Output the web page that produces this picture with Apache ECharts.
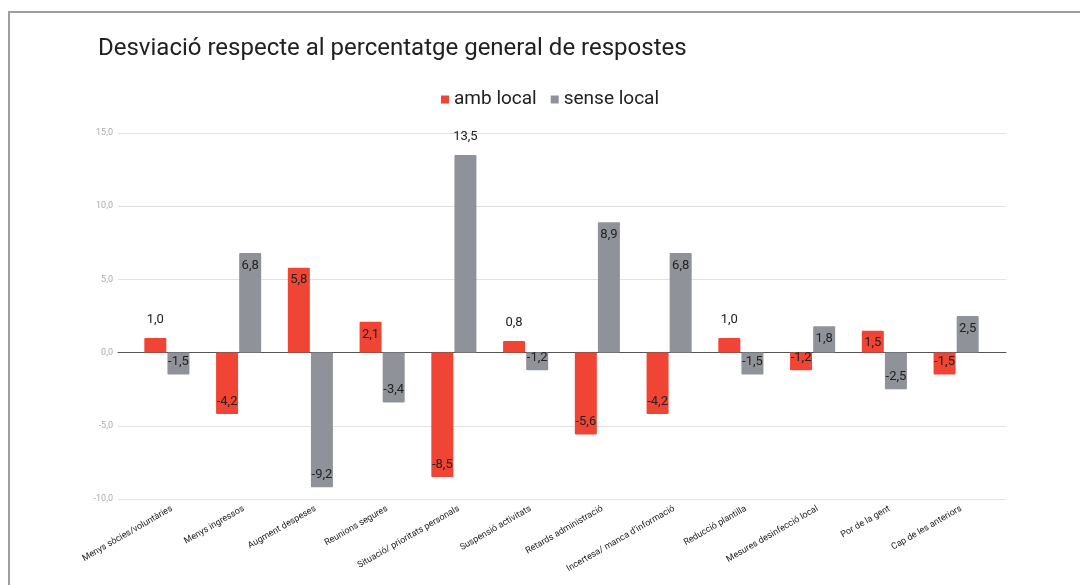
<!DOCTYPE html>
<html>
<head>
<meta charset="utf-8">
<script src="https://cdn.jsdelivr.net/npm/echarts@6/dist/echarts.min.js"></script>
<style>
html,body{margin:0;padding:0;background:#fff;}
#c{width:1080px;height:585px;}
</style>
</head>
<body>
<div id="c"></div>
<script>
var titleText = 'Desviació respecte al percentatge general de respostes';
var categories = ['Menys sòcies/voluntàries','Menys ingressos','Augment despeses','Reunions segures','Situació/ prioritats personals','Suspensió activitats','Retards administració','Incertesa/ manca d\u2019informació','Reducció plantilla','Mesures desinfecció local','Por de la gent','Cap de les anteriors'];
var seriesNames = ['amb local','sense local'];
var ambLocal = [1.0, -4.2, 5.8, 2.1, -8.5, 0.8, -5.6, -4.2, 1.0, -1.2, 1.5, -1.5];
var senseLocal = [-1.5, 6.8, -9.2, -3.4, 13.5, -1.2, 8.9, 6.8, -1.5, 1.8, -2.5, 2.5];
var yMin = -10, yMax = 15, yStep = 5;

function fmt(v){ return v.toFixed(1).replace('.', ','); }
function buildData(arr){
  return arr.map(function(v){
    var pos, dist;
    if (v > 0 && (v <= 1.0 || v >= 13)) { pos = 'top'; dist = 12; }
    else if (v >= 0) { pos = 'insideTop'; dist = 6; }
    else { pos = 'insideBottom'; dist = 6; }
    return { value: v, label: { position: pos, distance: dist } };
  });
}

var chart = echarts.init(document.getElementById('c'));
var FONT = 'Roboto, "Noto Sans", sans-serif';
chart.setOption({
  animation: false,
  textStyle: { fontFamily: FONT },
  color: ['#f04535', '#8f9299'],
  graphic: [{
    type: 'rect', z: 100,
    shape: { x: 9, y: 12, width: 1200, height: 700 },
    style: { fill: 'none', stroke: '#9e9e9e', lineWidth: 2 }
  }],
  title: {
    text: titleText, left: 93, top: 32,
    textStyle: { fontFamily: FONT, fontSize: 24, fontWeight: 'normal', color: '#212121' }
  },
  legend: {
    data: seriesNames, left: 436, top: 85,
    icon: 'rect', itemWidth: 8, itemHeight: 8, itemGap: 14,
    textStyle: { fontFamily: FONT, fontSize: 19, color: '#212121' }
  },
  grid: [
    { left: 118, right: 74, top: 133, bottom: 86 },
    { left: 131, right: 88, top: 133, bottom: 86 },
    { left: 136, right: 83, top: 133, bottom: 86 }
  ],
  xAxis: [
    { type: 'value', gridIndex: 0, min: 0, max: 1, show: true,
      axisLabel: { show: false }, axisTick: { show: false }, splitLine: { show: false },
      axisLine: { show: true, onZero: true, lineStyle: { color: '#555', width: 1 } } },
    { type: 'category', gridIndex: 1, data: categories,
      axisLine: { show: false }, axisTick: { show: false }, axisLabel: { show: false } },
    { type: 'category', gridIndex: 2, data: categories,
      axisLine: { show: false }, axisTick: { show: false },
      axisLabel: { rotate: 30, fontSize: 9, color: '#222', margin: 9, interval: 0, fontFamily: FONT } }
  ],
  yAxis: [
    { type: 'value', gridIndex: 0, min: yMin, max: yMax, interval: yStep,
      axisLine: { show: false }, axisTick: { show: false },
      axisLabel: { formatter: fmt, fontSize: 9, color: '#aaa', margin: 5, fontFamily: FONT },
      splitLine: { lineStyle: { color: '#e2e2e2', width: 1 } } },
    { type: 'value', gridIndex: 1, min: yMin, max: yMax, interval: yStep, show: false,
      splitLine: { show: false } },
    { type: 'value', gridIndex: 2, min: yMin, max: yMax, interval: yStep, show: false,
      splitLine: { show: false } }
  ],
  series: [
    { name: seriesNames[0], type: 'bar', xAxisIndex: 1, yAxisIndex: 1,
      data: buildData(ambLocal), barWidth: 22, barGap: '5%',
      itemStyle: { borderRadius: 1 },
      label: { show: true, formatter: function(p){ return fmt(p.value); }, fontSize: 13, color: '#222', fontFamily: FONT } },
    { name: seriesNames[1], type: 'bar', xAxisIndex: 1, yAxisIndex: 1,
      data: buildData(senseLocal), barWidth: 22, barGap: '5%',
      itemStyle: { borderRadius: 1 },
      label: { show: true, formatter: function(p){ return fmt(p.value); }, fontSize: 13, color: '#222', fontFamily: FONT } }
  ]
});
</script>
</body>
</html>
